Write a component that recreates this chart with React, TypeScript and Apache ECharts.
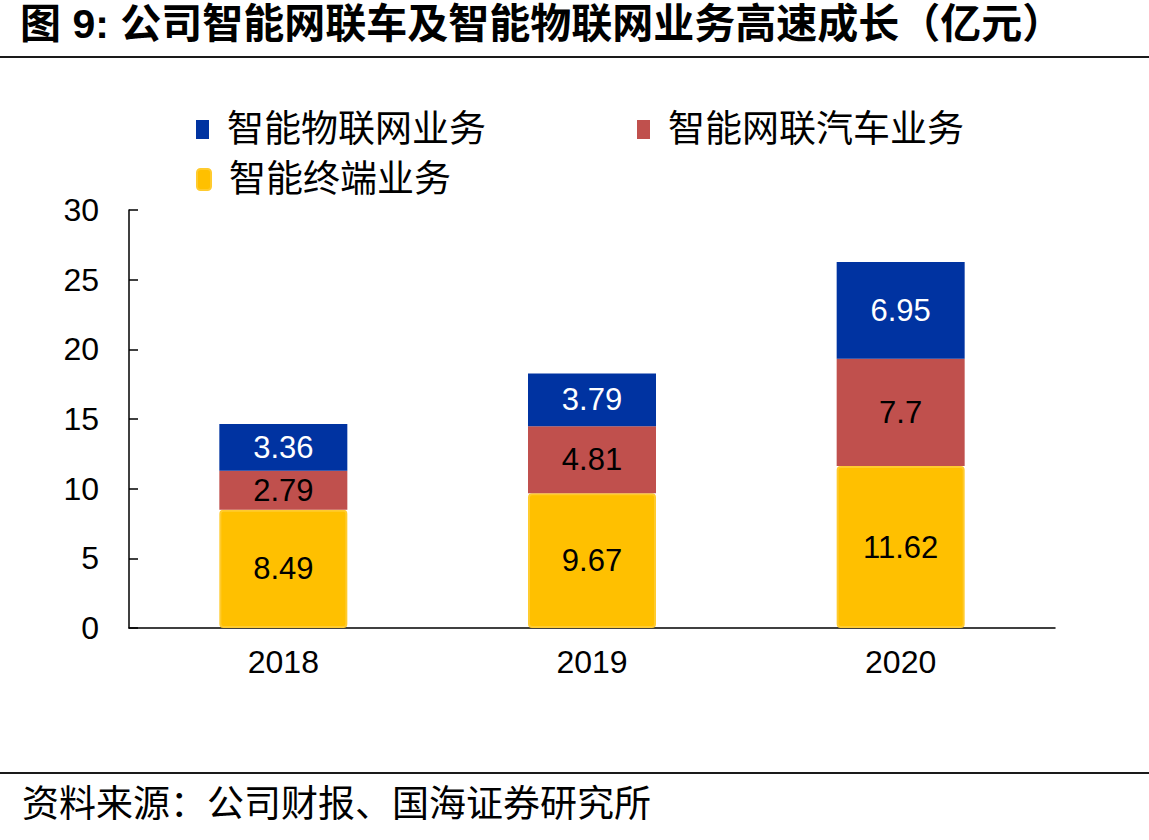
import React, { useEffect, useRef } from "react";
import * as echarts from "echarts";

const years = ["2018", "2019", "2020"];
const terminalSeries = [8.49, 9.67, 11.62];
const vehicleSeries = [2.79, 4.81, 7.7];
const iotSeries = [3.36, 3.79, 6.95];

const NAME_IOT = "智能物联网业务";
const NAME_VEHICLE = "智能网联汽车业务";
const NAME_TERMINAL = "智能终端业务";

const TITLE = "图 9: 公司智能网联车及智能物联网业务高速成长（亿元）";
const SOURCE = "资料来源：公司财报、国海证券研究所";

const BLUE = "#0033A1";
const RED = "#C0504D";
const YELLOW = "#FFC000";

const NUM_FONT = "'Liberation Sans', Arial, sans-serif";
const CJK_FONT = "'Liberation Sans', 'Noto Sans CJK SC', sans-serif";

export default function App() {
  const ref = useRef<HTMLDivElement>(null);

  useEffect(() => {
    document.body.style.margin = "0";
    const chart = echarts.init(ref.current!, null, { renderer: "svg" });

    const labelStyle = (color: string) => ({
      show: true,
      position: "inside" as const,
      color,
      fontSize: 31,
      fontFamily: NUM_FONT,
    });

    const legendText = {
      fontSize: 37,
      fontFamily: CJK_FONT,
      color: "#000",
      padding: [0, 0, 0, 13],
    };

    chart.setOption({
      animation: false,
      backgroundColor: "#fff",
      title: {
        text: TITLE,
        left: 20,
        top: 3,
        padding: 0,
        textStyle: {
          fontSize: 41,
          fontWeight: "bold",
          fontFamily: CJK_FONT,
          color: "#000",
        },
      },
      legend: [
        {
          data: [NAME_IOT],
          left: 196,
          top: 111,
          padding: 0,
          icon: "rect",
          itemWidth: 13,
          itemHeight: 19,
          textStyle: legendText,
        },
        {
          data: [NAME_VEHICLE],
          left: 637,
          top: 111,
          padding: 0,
          icon: "rect",
          itemWidth: 13,
          itemHeight: 19,
          textStyle: legendText,
        },
        {
          data: [NAME_TERMINAL],
          left: 196,
          top: 161,
          padding: 0,
          icon: "roundRect",
          itemWidth: 14,
          itemHeight: 21,
          textStyle: legendText,
        },
      ],
      grid: {
        left: 129,
        right: 94,
        top: 210,
        bottom: 212,
        containLabel: false,
      },
      xAxis: {
        type: "category",
        data: years,
        axisLine: { lineStyle: { color: "#000", width: 1.5 } },
        axisTick: { inside: true, length: 11, lineStyle: { color: "#000", width: 1.5 } },
        axisLabel: {
          color: "#000",
          fontSize: 32,
          fontFamily: NUM_FONT,
          margin: 18,
        },
      },
      yAxis: {
        type: "value",
        min: 0,
        max: 30,
        interval: 5,
        splitLine: { show: false },
        axisLine: { show: true, lineStyle: { color: "#000", width: 1.5 } },
        axisTick: { show: true, inside: true, length: 9, lineStyle: { color: "#000", width: 1.5 } },
        axisLabel: {
          color: "#000",
          fontSize: 32,
          fontFamily: NUM_FONT,
          margin: 30,
        },
      },
      series: [
        {
          name: NAME_TERMINAL,
          type: "bar",
          stack: "total",
          barWidth: 128,
          data: terminalSeries,
          itemStyle: {
            color: YELLOW,
            borderColor: "#FFCB2E",
            borderWidth: 2,
            borderRadius: 3,
          },
          label: labelStyle("#000"),
        },
        {
          name: NAME_VEHICLE,
          type: "bar",
          stack: "total",
          barWidth: 128,
          data: vehicleSeries,
          itemStyle: { color: RED },
          label: labelStyle("#000"),
        },
        {
          name: NAME_IOT,
          type: "bar",
          stack: "total",
          barWidth: 128,
          data: iotSeries,
          itemStyle: { color: BLUE },
          label: labelStyle("#fff"),
        },
      ],
      graphic: [
        {
          type: "line",
          shape: { x1: 0, y1: 57, x2: 1149, y2: 57 },
          style: { stroke: "#1a1a1a", lineWidth: 2 },
        },
        {
          type: "line",
          shape: { x1: 0, y1: 773, x2: 1149, y2: 773 },
          style: { stroke: "#1a1a1a", lineWidth: 2 },
        },
        {
          type: "text",
          left: 22,
          top: 786,
          style: {
            text: SOURCE,
            fontSize: 37,
            fontFamily: CJK_FONT,
            fill: "#000",
          },
        },
      ],
    });

    return () => chart.dispose();
  }, []);

  return <div ref={ref} style={{ width: 1149, height: 840 }} />;
}
